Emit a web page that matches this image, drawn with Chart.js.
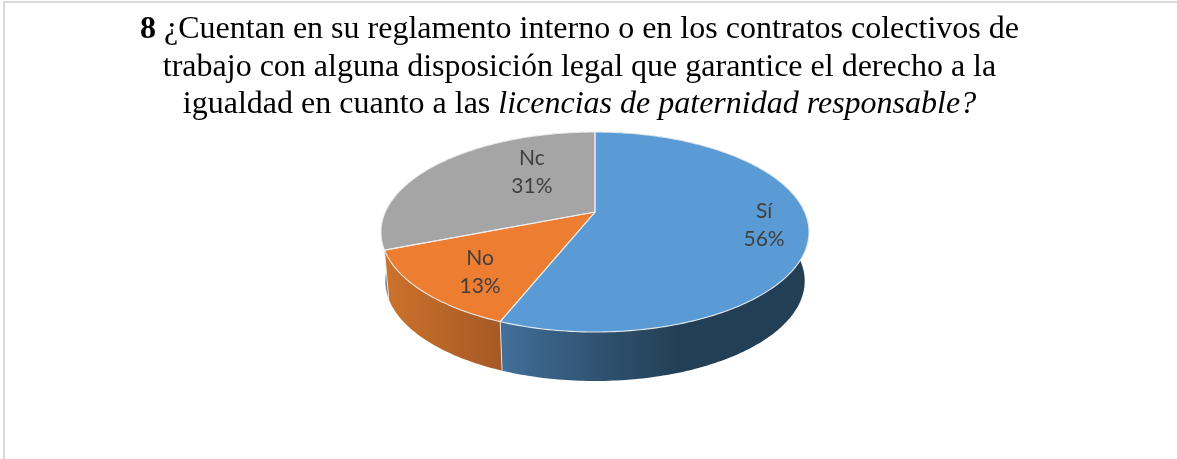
<!DOCTYPE html>
<html lang="es">
<head>
<meta charset="utf-8">
<script src="https://cdn.jsdelivr.net/npm/chart.js@4/dist/chart.umd.min.js"></script>
<style>
html,body{margin:0;padding:0;background:#fff;overflow:hidden}
#wrap{position:relative;width:1177px;height:459px;overflow:hidden}
#frame{position:absolute;left:3px;top:1px;right:-5px;bottom:-5px;border:2px solid #d9d9d9;box-sizing:border-box}
#title{position:absolute;left:0;top:9px;width:1159px;text-align:center;font-family:"Liberation Serif",serif;font-size:32px;line-height:37.5px;color:#000;white-space:nowrap}
canvas{position:absolute;left:0;top:0}
</style>
</head>
<body>
<div id="wrap">
<canvas id="c" width="1177" height="459"></canvas>
<div id="frame"></div>
<div id="title"><div><b>8</b> ¿Cuentan en su reglamento interno o en los contratos colectivos de</div><div>trabajo con alguna disposición legal que garantice el derecho a la</div><div>igualdad en cuanto a las <i>licencias de paternidad responsable?</i></div></div>
</div>
<script>
const categories = ['Sí', 'No', 'Nc'];
const percentValues = [56, 13, 31];
const topColors = ['#5B9BD5', '#ED7D31', '#A5A5A5'];

const VIEW = {squash: 100 / 214, apexShift: -0.2, depth: 49, lowerRx: 0.98};
const SIDE_GRADIENTS = [
  [[500, '#436f99'], [600, '#2f5270'], [680, '#233f56'], [810, '#233f56']],
  [[385, '#cc722c'], [500, '#a65925']],
  [[380, '#80848a'], [595, '#80848a']]
];
const LABEL_ANCHORS = [[0.79, -0.07], [-0.537, 0.40], [-0.295, -0.60]];

function project(t) {
  const a = VIEW.apexShift, x = Math.cos(t), y = Math.sin(t), d = 1 + a * y;
  return [x * Math.sqrt(1 - a * a) / d, (y + a) / d];
}
function arcPoints(start, end) {
  const n = Math.max(8, Math.ceil((end - start) * 60)), pts = [];
  for (let i = 0; i <= n; i++) pts.push(project(start + (end - start) * i / n));
  return pts;
}
const pie3d = {
  id: 'pie3d',
  beforeDatasetDraw(chart) {
    const ctx = chart.ctx, els = chart.getDatasetMeta(0).data;
    const el0 = els[0], cx = el0.x, cy = el0.y, rx = el0.outerRadius, ry = rx * VIEW.squash;
    const up = (p) => [cx + p[0] * rx, cy + p[1] * ry];
    const low = (p) => [cx + p[0] * rx * VIEW.lowerRx, cy + VIEW.depth + p[1] * ry];
    ctx.save();
    // walls
    [2, 1, 0].forEach((i) => {
      const el = els[i], pts = arcPoints(el.startAngle, el.endAngle);
      const g = SIDE_GRADIENTS[i], grad = ctx.createLinearGradient(g[0][0], 0, g[g.length - 1][0], 0);
      g.forEach((s) => grad.addColorStop((s[0] - g[0][0]) / (g[g.length - 1][0] - g[0][0]), s[1]));
      ctx.beginPath();
      pts.forEach((p, k) => { const q = up(p); k ? ctx.lineTo(q[0], q[1]) : ctx.moveTo(q[0], q[1]); });
      pts.slice().reverse().forEach((p) => { const q = low(p); ctx.lineTo(q[0], q[1]); });
      ctx.closePath();
      ctx.fillStyle = grad;
      ctx.fill();
    });
    els.forEach((el) => {
      const p = project(el.startAngle), a = up(p), b = low(p);
      ctx.beginPath(); ctx.moveTo(a[0], a[1]); ctx.lineTo(b[0], b[1]);
      ctx.strokeStyle = 'rgba(235,235,235,0.9)'; ctx.lineWidth = 1; ctx.stroke();
    });
    // top faces
    const apex = [cx, cy + VIEW.apexShift * ry];
    els.forEach((el, i) => {
      ctx.beginPath();
      ctx.moveTo(apex[0], apex[1]);
      arcPoints(el.startAngle, el.endAngle).forEach((p) => { const q = up(p); ctx.lineTo(q[0], q[1]); });
      ctx.closePath();
      ctx.fillStyle = el.options.backgroundColor;
      ctx.fill();
    });
    els.forEach((el) => {
      ctx.beginPath();
      ctx.moveTo(apex[0], apex[1]);
      arcPoints(el.startAngle, el.endAngle).forEach((p) => { const q = up(p); ctx.lineTo(q[0], q[1]); });
      ctx.closePath();
      ctx.strokeStyle = 'rgba(240,240,240,0.9)';
      ctx.lineWidth = 1.1;
      ctx.stroke();
    });
    // labels
    ctx.fillStyle = '#404040';
    ctx.font = '21px Lato, "Open Sans", sans-serif';
    ctx.textAlign = 'center';
    ctx.textBaseline = 'middle';
    const total = percentValues.reduce((s, v) => s + v, 0);
    categories.forEach((name, i) => {
      const x = cx + LABEL_ANCHORS[i][0] * rx, y = cy + LABEL_ANCHORS[i][1] * ry;
      ctx.fillText(name, x, y - 14);
      ctx.fillText(Math.round(percentValues[i] / total * 100) + '%', x, y + 14);
    });
    ctx.restore();
    return false;
  }
};
new Chart(document.getElementById('c'), {
  type: 'pie',
  data: {labels: categories, datasets: [{data: percentValues, backgroundColor: topColors, borderWidth: 0}]},
  options: {
    responsive: false, animation: false,
    layout: {padding: {left: 13, right: 0, top: 18, bottom: 13}},
    plugins: {legend: {display: false}, tooltip: {enabled: false}, title: {display: false}}
  },
  plugins: [pie3d]
});
</script>
</body>
</html>
